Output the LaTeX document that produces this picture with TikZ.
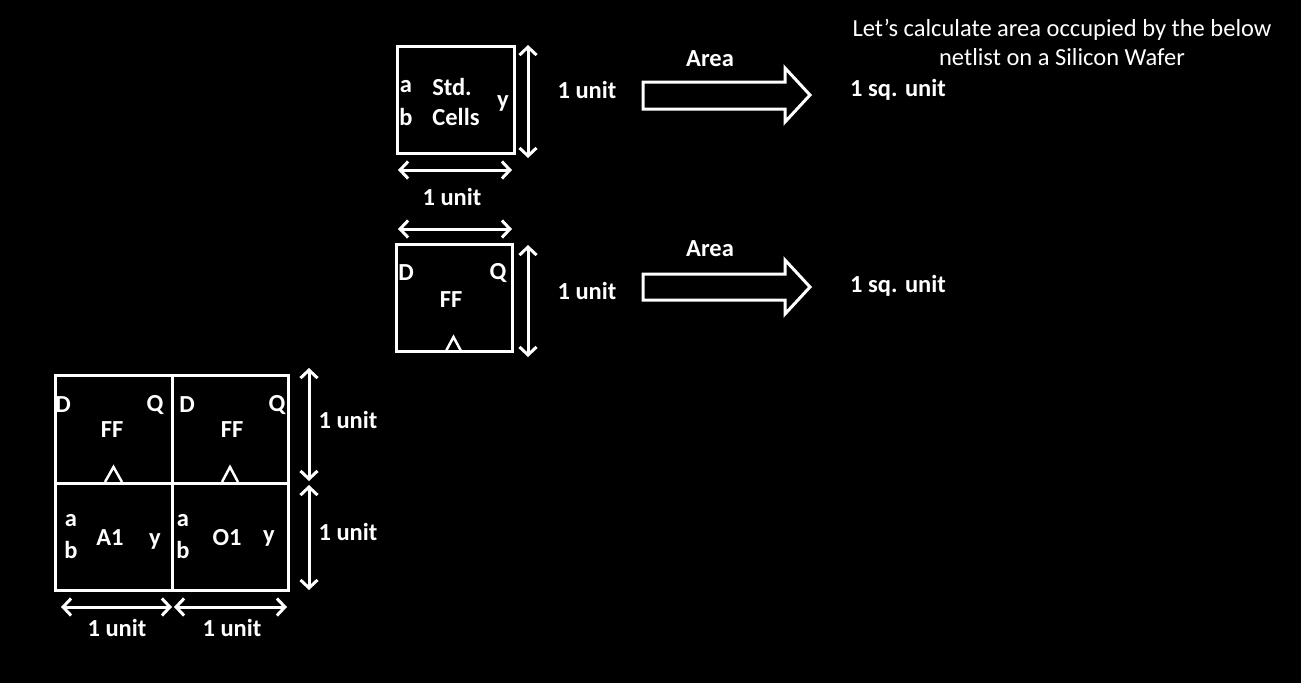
\documentclass[tikz,border=0pt]{standalone}
\usepackage{fontspec}
\setmainfont{Carlito}
\usetikzlibrary{arrows.meta}
\begin{document}
\begin{tikzpicture}[x=1pt,y=-1pt,
  every node/.style={text=white, inner sep=0pt, outer sep=0pt},
  lbl/.style={font=\bfseries\fontsize{24.5}{28}\selectfont},
  ttl/.style={font=\fontsize{24.5}{29}\selectfont, align=center},
  cell/.style={draw=white, line width=3pt, fill=none, anchor=center},
  dim/.style={draw=white, line width=3pt, {Straight Barb[length=8pt,width=17pt]}-{Straight Barb[length=8pt,width=17pt]}},
  blk/.style={draw=white, line width=3pt, fill=black, line join=miter},
  clk/.style={draw=white, line width=2.5pt}]
\fill[black] (0,0) rectangle (1301,683);
\useasboundingbox (0,0) rectangle (1301,683);

% title
\node[ttl] (title) at (1062,42) {Let’s calculate area occupied by the below\\netlist on a Silicon Wafer};

% ---- standard cell ----
\node[cell, minimum width=117pt, minimum height=107pt] (std) at (455.5,99.5) {};
\node[lbl] (stda) at (406,87) {a};
\node[lbl] (stdb) at (406,117) {b};
\node[lbl] (stdt1) at (452,87) {Std.};
\node[lbl] (stdt2) at (456,117) {Cells};
\node[lbl] (stdy) at (503,103) {y};
\coordinate (sv1) at (528,45);
\coordinate (sv2) at (528,158);
\draw[dim] (sv1) -- (sv2);
\coordinate (sh1) at (398,170);
\coordinate (sh2) at (512,170);
\draw[dim] (sh1) -- (sh2);
\node[lbl] (stdw) at (452,197) {1 unit};
\node[lbl] (stdh) at (587,90) {1 unit};
\node[lbl] (area1) at (710,59) {Area};
\draw[blk] (643,82) -- (785,82) -- (785,68) -- (810,95) -- (785,122) -- (785,109) -- (643,109) -- cycle;
\node[lbl] (res1) at (898,90) {1 sq. unit};

% ---- flip flop ----
\coordinate (fh1) at (398,229);
\coordinate (fh2) at (512,229);
\draw[dim] (fh1) -- (fh2);
\node[cell, minimum width=116pt, minimum height=107pt] (ff) at (454,297.5) {};
\node[lbl] (ffd) at (406,273) {D};
\node[lbl] (ffq) at (498,273) {Q};
\node[lbl] (fft) at (451,300) {FF};
\draw[clk] (446,351) -- (453.5,337) -- (461,351);
\coordinate (fv1) at (528,245);
\coordinate (fv2) at (528,357);
\draw[dim] (fv1) -- (fv2);
\node[lbl] (ffh) at (587,291) {1 unit};
\node[lbl] (area2) at (710,249) {Area};
\draw[blk] (643,274) -- (785,274) -- (785,260) -- (810,287) -- (785,314) -- (785,300) -- (643,300) -- cycle;
\node[lbl] (res2) at (898,286) {1 sq. unit};

% ---- netlist grid ----
\node[cell, minimum width=117pt, minimum height=108pt] (g1) at (113.5,429) {};
\node[cell, minimum width=116pt, minimum height=108pt] (g2) at (230,429) {};
\node[cell, minimum width=117pt, minimum height=107pt] (g3) at (113.5,536.5) {};
\node[cell, minimum width=116pt, minimum height=107pt] (g4) at (230,536.5) {};

\node[lbl] (g1d) at (63,405) {D};
\node[lbl] (g1q) at (155,405) {Q};
\node[lbl] (g1t) at (112,430) {FF};
\draw[clk] (105,482) -- (113.5,467) -- (122,482);
\node[lbl] (g2d) at (187,405) {D};
\node[lbl] (g2q) at (277,405) {Q};
\node[lbl] (g2t) at (232,430) {FF};
\draw[clk] (222,482) -- (230,467) -- (238,482);

\node[lbl] (g3a) at (71,521) {a};
\node[lbl] (g3b) at (71,550) {b};
\node[lbl] (g3t) at (110,538) {A1};
\node[lbl] (g3y) at (155,541) {y};
\node[lbl] (g4a) at (183,521) {a};
\node[lbl] (g4b) at (183,550) {b};
\node[lbl] (g4t) at (227,538) {O1};
\node[lbl] (g4y) at (269,538) {y};

\coordinate (gv1) at (309,368);
\coordinate (gv2) at (309,481);
\coordinate (gv3) at (309,485);
\coordinate (gv4) at (309,590);
\draw[dim] (gv1) -- (gv2);
\draw[dim] (gv3) -- (gv4);
\node[lbl] (gh1) at (348,420) {1 unit};
\node[lbl] (gh2) at (348,532) {1 unit};

\coordinate (gw1) at (61,607);
\coordinate (gw2) at (172,607);
\coordinate (gw3) at (174,607);
\coordinate (gw4) at (287,607);
\draw[dim] (gw1) -- (gw2);
\draw[dim] (gw3) -- (gw4);
\node[lbl] (gx1) at (117,628) {1 unit};
\node[lbl] (gx2) at (232,628) {1 unit};
\end{tikzpicture}
\end{document}
